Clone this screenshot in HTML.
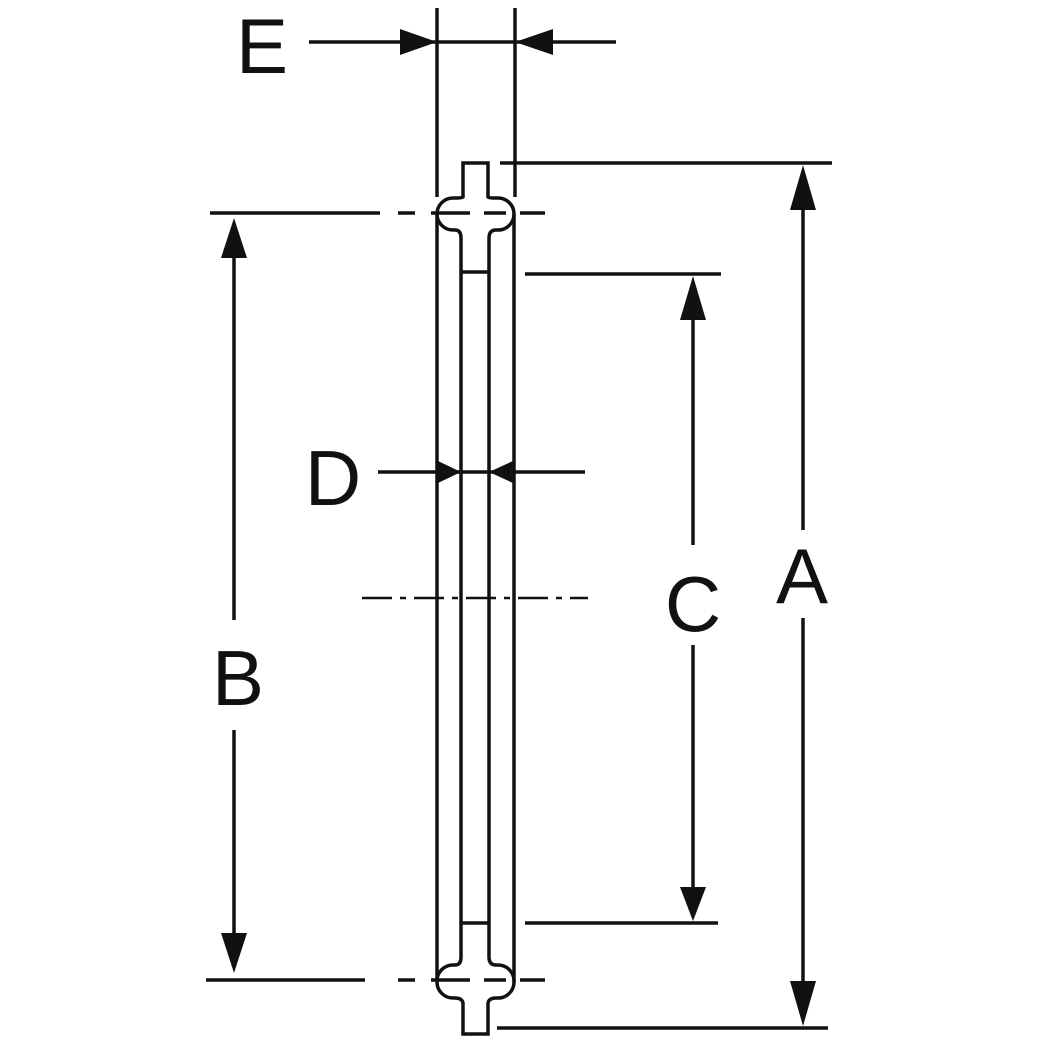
<!DOCTYPE html>
<html><head><style>html,body{margin:0;padding:0;background:#fff}svg{display:block}</style></head>
<body>
<svg width="1040" height="1040" viewBox="0 0 1040 1040" xmlns="http://www.w3.org/2000/svg">
<g stroke="#111" stroke-width="3.5" fill="none" stroke-linecap="butt">
<!-- gasket outline -->
<path d="M437,214 L437,982"/>
<path d="M514,214 L514,982"/>
<path d="M463,197 L463,163 L488,163 L488,197 Q489,198 494,198 L497,198 A16,16 0 0 1 514,214 A16,16 0 0 1 498,230 L496,230 Q489,230 489,238 L489,957 Q489,965 496,965 L498,965 A16,16 0 0 1 514,982 A16,16 0 0 1 498,998 L496,998 Q489,998 488,1003 L488,1034 L463,1034 L463,1003 Q462,998 455,998 L453,998 A16,16 0 0 1 437,982 A16,16 0 0 1 453,965 L455,965 Q461,965 461,957 L461,238 Q461,230 455,230 L453,230 A16,16 0 0 1 437,214 A16,16 0 0 1 453,198 L456,198 Q462,198 463,197 Z"/>
<path d="M461,272 L489,272"/>
<path d="M461,923 L489,923"/>
<!-- E -->
<path d="M437,8 L437,197"/>
<path d="M515,8 L515,197"/>
<path d="M309,42 L616,42"/>
<!-- A -->
<path d="M500,163 L832,163"/>
<path d="M497,1028 L828,1028"/>
<path d="M803,200 L803,530"/>
<path d="M803,618 L803,990"/>
<!-- B -->
<path d="M210,213 L380,213 M398,213 L415,213 M431,213 L470,213 M484,213 L506,213 M520,213 L545,213"/>
<path d="M206,980 L365,980 M398,980 L415,980 M431,980 L470,980 M484,980 L506,980 M520,980 L545,980"/>
<path d="M234,250 L234,620"/>
<path d="M234,730 L234,945"/>
<!-- C -->
<path d="M525,274 L721,274"/>
<path d="M525,923 L718,923"/>
<path d="M693,310 L693,545"/>
<path d="M693,645 L693,890"/>
<!-- D -->
<path d="M378,472 L585,472"/>
<!-- centerline -->
<path d="M362,598 L588,598" stroke-width="2.5" stroke-dasharray="30,8,6,8"/>
</g>
<g fill="#111">
<polygon points="437,42 400,29 400,55"/>
<polygon points="515,42 553,29 553,55"/>
<polygon points="803,165 790,210 816,210"/>
<polygon points="803,1026 790,981 816,981"/>
<polygon points="234,218 221,258 247,258"/>
<polygon points="234,973 221,933 247,933"/>
<polygon points="693,276 680,320 706,320"/>
<polygon points="693,921 680,887 706,887"/>
<polygon points="461,472 438,461 438,483"/>
<polygon points="489,472 513,461 513,483"/>
</g>
<g font-family="Liberation Sans, sans-serif" font-size="78" fill="#111" text-anchor="middle">
<text x="262" y="73">E</text>
<text x="802" y="603">A</text>
<text x="238" y="705">B</text>
<text x="693" y="631">C</text>
<text x="333" y="505">D</text>
</g>
</svg>
</body></html>
